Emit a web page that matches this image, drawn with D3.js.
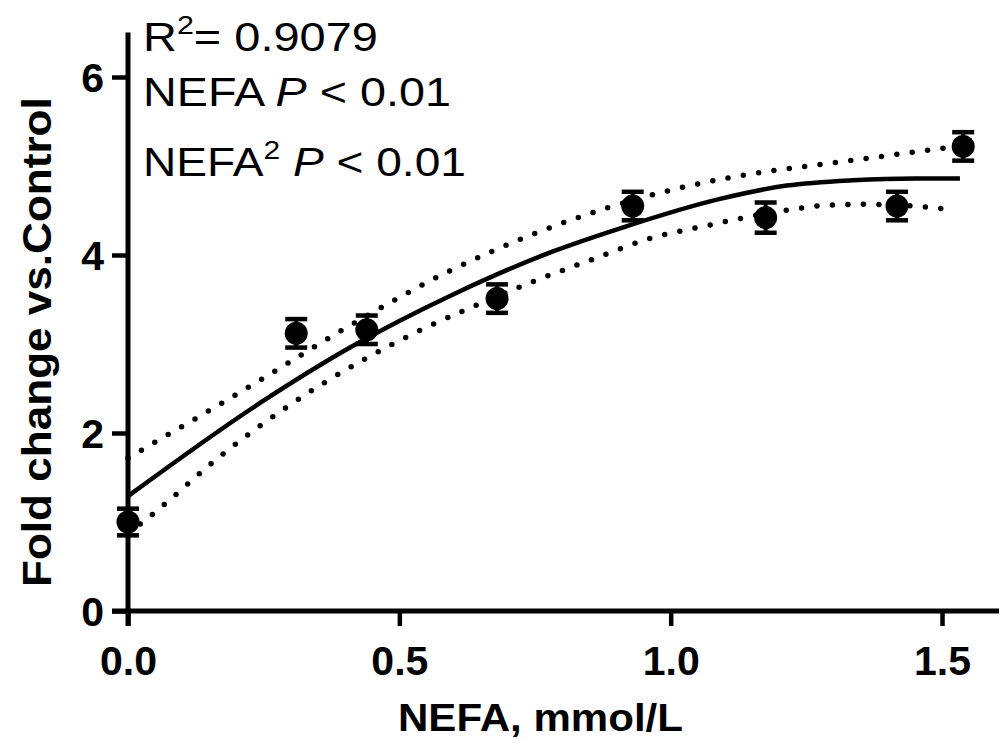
<!DOCTYPE html>
<html><head><meta charset="utf-8">
<script src="https://cdn.jsdelivr.net/npm/d3@7/dist/d3.min.js"></script>
<style>body{margin:0;background:#fff}svg{display:block}</style>
</head><body>
<svg id="c" width="1004" height="753"></svg>
<script>
// Data
const nefa = [0, 0.31, 0.44, 0.68, 0.93, 1.175, 1.417, 1.539];
const fold = [1.0, 3.12, 3.16, 3.51, 4.55, 4.42, 4.55, 5.22];
const sem  = [0.15, 0.16, 0.16, 0.16, 0.16, 0.17, 0.16, 0.16];

const fitX = [0, 0.249, 0.409, 0.6, 0.783, 0.907, 1.091, 1.214, 1.336, 1.45, 1.533];
const fitY = [1.29, 2.36, 2.96, 3.56, 4.04, 4.30, 4.63, 4.78, 4.84, 4.86, 4.86];

const upX = [0, 0.138, 0.166, 0.464, 0.579, 0.663, 0.956, 1.109, 1.266, 1.391, 1.515];
const upY = [1.72, 2.21, 2.31, 3.40, 3.78, 4.02, 4.66, 4.87, 5.01, 5.11, 5.21];

const loX = [0, 0.048, 0.170, 0.297, 0.433, 0.544, 0.628, 0.746, 0.864, 0.953, 1.074, 1.198, 1.292, 1.354, 1.450, 1.515];
const loY = [0.87, 1.10, 1.74, 2.31, 2.82, 3.17, 3.40, 3.70, 3.97, 4.17, 4.34, 4.49, 4.56, 4.57, 4.55, 4.51];

const xTicks = [0, 0.5, 1.0, 1.5];
const yTicks = [0, 2, 4, 6];
const xTitle = "NEFA, mmol/L";
const yTitle = "Fold change vs.Control";

const svg = d3.select("#c");
const x = d3.scaleLinear().domain([0, 1.6]).range([128, 996.3]);
const y = d3.scaleLinear().domain([0, 6.5]).range([611, 32.5]);
const font = "'Liberation Sans', Arial, Helvetica, sans-serif";

// stretch a text element horizontally (in its own frame) about an anchor to a target width
function fitWidth(sel, target, ax) {
  const w = sel.node().getBBox().width;
  const s = target / w;
  const prev = sel.attr("transform") || "";
  sel.attr("transform", `${prev} translate(${ax},0) scale(${s},1) translate(${-ax},0)`);
}

// lines
const line = d3.line().x(d => x(d[0])).y(d => y(d[1])).curve(d3.curveMonotoneX);
const band = (xs, ys) => xs.map((v, i) => [v, ys[i]]);

svg.append("path").attr("d", line(band(upX, upY)))
  .attr("fill", "none").attr("stroke", "#000").attr("stroke-width", 5.5)
  .attr("stroke-linecap", "round").attr("stroke-dasharray", "0,15.5");
svg.append("path").attr("d", line(band(loX, loY)))
  .attr("fill", "none").attr("stroke", "#000").attr("stroke-width", 5.5)
  .attr("stroke-linecap", "round").attr("stroke-dasharray", "0,15.5");
svg.append("path").attr("d", line(band(fitX, fitY)))
  .attr("fill", "none").attr("stroke", "#000").attr("stroke-width", 4.5);

// axes
const gx = svg.append("g").attr("transform", `translate(0,${y(0)})`)
  .call(d3.axisBottom(x).tickValues(xTicks).tickFormat(d3.format(".1f")).tickSize(15).tickSizeOuter(0).tickPadding(0));
const gy = svg.append("g").attr("transform", `translate(${x(0)},0)`)
  .call(d3.axisLeft(y).tickValues(yTicks).tickFormat(d3.format("d")).tickSize(16).tickSizeOuter(0).tickPadding(8));
[gx, gy].forEach(g => {
  g.select(".domain").remove();
  g.selectAll(".tick line").attr("stroke", "#000").attr("stroke-width", 4.5);
  g.selectAll(".tick text").attr("fill", "#000").style("font-family", font)
    .style("font-size", "41px").style("font-weight", "bold");
});
gx.selectAll(".tick text").attr("y", 64).attr("dy", 0);
gy.selectAll(".tick text").attr("dy", "0.36em");
// axis lines
svg.append("line").attr("x1", x(0) - 16).attr("x2", 999).attr("y1", y(0)).attr("y2", y(0))
  .attr("stroke", "#000").attr("stroke-width", 5);
svg.append("line").attr("x1", x(0)).attr("x2", x(0)).attr("y1", y(6.5)).attr("y2", y(0) + 15)
  .attr("stroke", "#000").attr("stroke-width", 5);

// error bars & points
const pts = nefa.map((v, i) => ({x: v, y: fold[i], e: sem[i]}));
const eb = svg.append("g");
pts.forEach(p => {
  const cx = x(p.x), t = y(p.y + p.e), b = y(p.y - p.e);
  eb.append("line").attr("x1", cx).attr("x2", cx).attr("y1", t).attr("y2", b)
    .attr("stroke", "#000").attr("stroke-width", 4);
  [t, b].forEach(yy => eb.append("line").attr("x1", cx - 11).attr("x2", cx + 11)
    .attr("y1", yy).attr("y2", yy).attr("stroke", "#000").attr("stroke-width", 4.5));
});
svg.append("g").selectAll("circle").data(pts).join("circle")
  .attr("cx", d => x(d.x)).attr("cy", d => y(d.y)).attr("r", 11.5).attr("fill", "#000");

// titles
const xt = svg.append("text").attr("x", 398).attr("y", 731)
  .style("font-family", font).style("font-size", "38px").style("font-weight", "bold").text(xTitle);
fitWidth(xt, 285, 398);
const yt = svg.append("text").attr("transform", `translate(51,587) rotate(-90)`).attr("x", 0).attr("y", 0)
  .style("font-family", font).style("font-size", "40px").style("font-weight", "bold").text(yTitle);
fitWidth(yt, 490, 0);

// annotation
const ann = svg.append("g").style("font-family", font).style("font-size", "40px").attr("fill", "#000");
const t1 = ann.append("text").attr("x", 143).attr("y", 51);
t1.append("tspan").text("R");
t1.append("tspan").attr("dy", -17).style("font-size", "26px").text("2");
t1.append("tspan").attr("dy", 17).text("= 0.9079");
const t2 = ann.append("text").attr("x", 143).attr("y", 106);
t2.append("tspan").text("NEFA ");
t2.append("tspan").style("font-style", "italic").text("P");
t2.append("tspan").text(" < 0.01");
const t3 = ann.append("text").attr("x", 143).attr("y", 176);
t3.append("tspan").text("NEFA");
t3.append("tspan").attr("dy", -17).style("font-size", "26px").text("2");
t3.append("tspan").attr("dy", 17).text(" ");
t3.append("tspan").style("font-style", "italic").text("P");
t3.append("tspan").text(" < 0.01");
fitWidth(t1, 235, 143);
fitWidth(t2, 308, 143);
fitWidth(t3, 323, 143);
</script>
</body></html>
